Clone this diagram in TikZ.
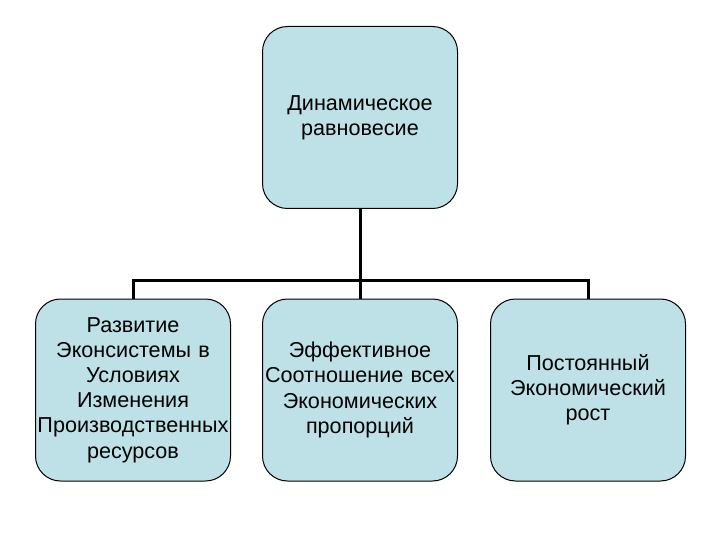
\documentclass[tikz,border=0pt]{standalone}
\usepackage{fontspec}
\setmainfont{Liberation Sans}
\definecolor{boxfill}{RGB}{189,225,230}
\begin{document}
\begin{tikzpicture}[x=1pt,y=-1pt,
  box/.style={draw=black, line width=1pt, fill=boxfill, rounded corners=25pt,
    minimum width=195pt, minimum height=182pt, inner sep=0pt, align=center,
    text width=195pt, font=\fontsize{21.6}{25.2}\selectfont},
  conn/.style={line width=3pt, line cap=butt}]
\useasboundingbox (0,0) rectangle (720,540);
\node[box] (top) at (360,117.5) {Динамическое\\равновесие};
\node[box] (b1) at (133,390) {Развитие\\Эконсистемы в\\Условиях\\Изменения\\Производственных\\ресурсов};
\node[box] (b2) at (360,390) {Эффективное\\Соотношение всех\\Экономических\\пропорций};
\node[box] (b3) at (588,390) {Постоянный\\Экономический\\рост};
\coordinate (j) at (360,280);
\draw[conn] (top.south) -- (j);
\draw[conn] (b1.north) |- (j) -| (b3.north);
\draw[conn] (j) -- (b2.north);
\end{tikzpicture}
\end{document}
